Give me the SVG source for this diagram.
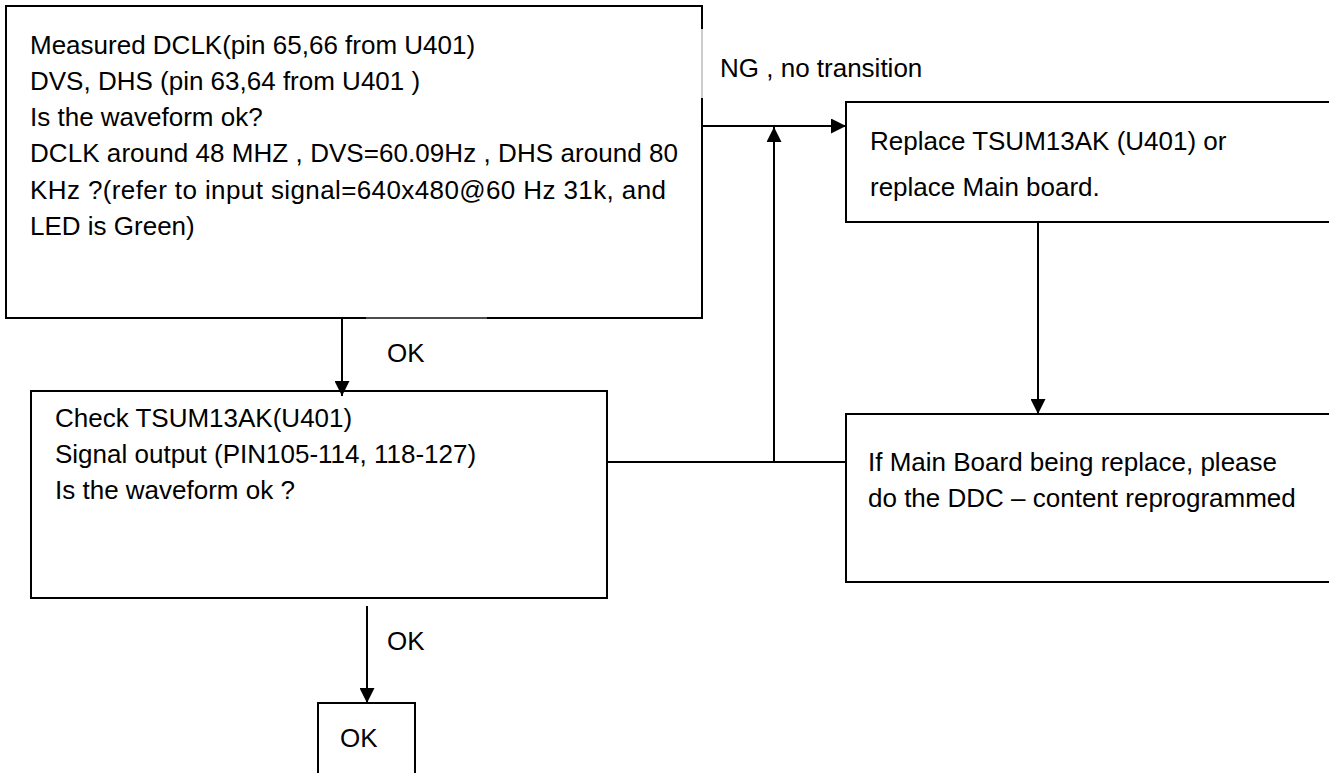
<svg xmlns="http://www.w3.org/2000/svg" width="1329" height="773" viewBox="0 0 1329 773">
<style>
.box{fill:#fff;stroke:#000;stroke-width:2}
.t{font-family:"Liberation Sans",Arial,sans-serif;font-size:26px;fill:#000}
.c{fill:none;stroke:#000;stroke-width:2}
.g{fill:none;stroke:#999;stroke-width:1}
</style>
<defs>
<marker id="ah" viewBox="0 0 10 10" refX="10" refY="5" markerWidth="15" markerHeight="15" markerUnits="userSpaceOnUse" orient="auto">
<path d="M0,0 L10,5 L0,10 z" fill="#000"/>
</marker>
</defs>
<rect width="1329" height="773" fill="#fff"/>
<g id="n1">
<path class="c" d="M702,98 L702,318 L366,318 M487,318 L702,318 M366,318 L6,318 L6,6 L702,6 L702,29"/>
<path class="g" d="M702,29 L702,98 M366,318 L487,318"/>
<text class="t" x="30" y="54">Measured DCLK(pin 65,66 from U401)</text>
<text class="t" x="30" y="90">DVS, DHS (pin 63,64 from U401 )</text>
<text class="t" x="30" y="126">Is the waveform ok?</text>
<text class="t" x="30" y="162" textLength="648" lengthAdjust="spacing">DCLK around 48 MHZ , DVS=60.09Hz , DHS around 80</text>
<text class="t" x="30" y="199" textLength="636" lengthAdjust="spacing">KHz ?(refer to input signal=640x480@60 Hz 31k, and</text>
<text class="t" x="30" y="235">LED is Green)</text>
</g>
<g id="n2">
<rect class="box" x="846" y="102" width="500" height="120"/>
<text class="t" x="870" y="150">Replace TSUM13AK (U401) or</text>
<text class="t" x="870" y="196">replace Main board.</text>
</g>
<g id="n3">
<rect class="box" x="31" y="391" width="576" height="207"/>
<text class="t" x="55" y="427">Check TSUM13AK(U401)</text>
<text class="t" x="55" y="463">Signal output (PIN105-114, 118-127)</text>
<text class="t" x="55" y="499">Is the waveform ok ?</text>
</g>
<g id="n4">
<rect class="box" x="846" y="414" width="500" height="168"/>
<text class="t" x="868" y="471">If Main Board being replace, please</text>
<text class="t" x="868" y="507">do the DDC – content reprogrammed</text>
</g>
<g id="n5">
<rect class="box" x="318" y="703" width="97" height="100"/>
<text class="t" x="340" y="747">OK</text>
</g>
<g id="connectors">
<path class="c" d="M702,126 L846,126" marker-end="url(#ah)"/>
<path class="c" d="M607,462 L846,462"/>
<path class="c" d="M774,462 L774,127" marker-end="url(#ah)"/>
<path class="c" d="M1038,222 L1038,414" marker-end="url(#ah)"/>
<path class="c" d="M342,318 L342,396" marker-end="url(#ah)"/>
<path class="c" d="M367,606 L367,703" marker-end="url(#ah)"/>
<text class="t" x="720" y="77">NG , no transition</text>
<text class="t" x="387" y="362">OK</text>
<text class="t" x="387" y="650">OK</text>
</g>
</svg>
